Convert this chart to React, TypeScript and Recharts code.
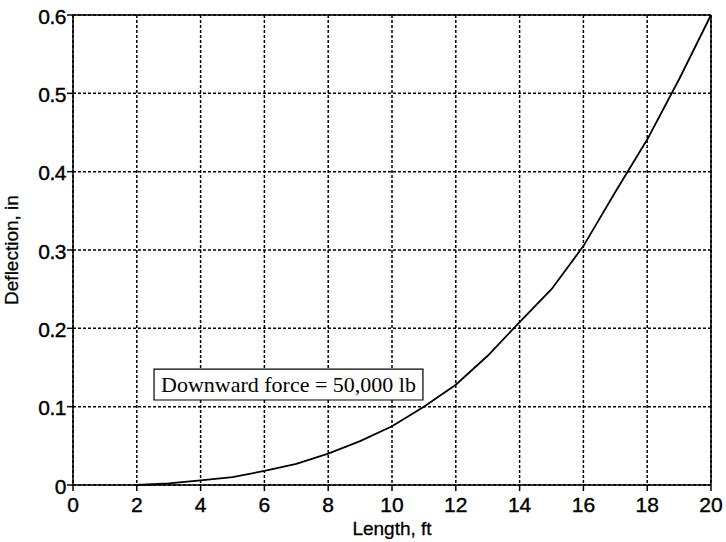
import React from "react";
import {
  LineChart,
  Line,
  XAxis,
  YAxis,
  CartesianGrid,
  ReferenceLine,
  ReferenceArea,
  Label,
} from "recharts";

const lengths = [2, 3, 4, 5, 6, 7, 8, 9, 10, 11, 12, 13, 14, 15, 16, 17, 18, 19, 20];
const deflections = [0, 0.002, 0.006, 0.01, 0.018, 0.027, 0.04, 0.056, 0.075, 0.1, 0.128, 0.165, 0.208, 0.25, 0.305, 0.374, 0.441, 0.518, 0.6];
const xTicks = [0, 2, 4, 6, 8, 10, 12, 14, 16, 18, 20];
const yTicks = [0, 0.1, 0.2, 0.3, 0.4, 0.5, 0.6];
const annotation = "Downward force = 50,000 lb";

const data = lengths.map((x, i) => ({ x, y: deflections[i] }));

const SANS = "Liberation Sans, Arial, sans-serif";

const XTick = (props: any) => {
  const { x, y, payload } = props;
  return (
    <text x={x} y={y + 19} textAnchor="middle" fontSize={21} fontFamily={SANS} fill="#000" stroke="#000" strokeWidth={0.4}>
      {payload.value}
    </text>
  );
};

const YTick = (props: any) => {
  const { x, y, payload } = props;
  const v = payload.value as number;
  return (
    <text x={x + 1} y={y + 8.5} textAnchor="end" fontSize={21} fontFamily={SANS} fill="#000" stroke="#000" strokeWidth={0.4} letterSpacing={-0.5}>
      {v === 0 ? "0" : v.toFixed(1)}
    </text>
  );
};

export default function App() {
  return (
    <div style={{ position: "absolute", left: 0, top: 0, background: "#fff" }}>
      <LineChart
        width={726}
        height={542}
        data={data}
        margin={{ top: 15, right: 15, bottom: 0, left: 0 }}
      >
        <CartesianGrid
          stroke="#000"
          strokeDasharray="3 2"
          strokeWidth={1.5}
          horizontal
          vertical
        />
        <XAxis
          dataKey="x"
          type="number"
          domain={[0, 20]}
          ticks={xTicks}
          interval={0}
          stroke="#000"
          strokeWidth={1.5}
          tickSize={6}
          tick={<XTick />}
          height={57}
        >
          <Label value="Length, ft" position="insideBottom" offset={7} fontSize={19} fontFamily={SANS} fill="#000" stroke="#000" strokeWidth={0.3} />
        </XAxis>
        <YAxis
          type="number"
          domain={[0, 0.6]}
          ticks={yTicks}
          interval={0}
          stroke="#000"
          strokeWidth={1.5}
          tickSize={6}
          width={73}
          tick={<YTick />}
        >
          <Label
            value="Deflection, in"
            angle={-90}
            position="insideLeft"
            offset={11}
            fontSize={19}
            fontFamily={SANS}
            fill="#000"
            stroke="#000"
            strokeWidth={0.3}
            style={{ textAnchor: "middle" }}
          />
        </YAxis>
        <ReferenceLine y={0.6} stroke="#000" strokeWidth={1.5} />
        <ReferenceLine x={20} stroke="#000" strokeWidth={1.5} />
        <ReferenceArea
          x1={2.54}
          x2={10.97}
          y1={0.1085}
          y2={0.148}
          fill="#fff"
          fillOpacity={1}
          stroke="#000"
          strokeWidth={1.2}
        >
          <Label
            value={annotation}
            position="center"
            fontSize={22}
            fontFamily="Liberation Serif, Times New Roman, serif"
            fill="#000"
          />
        </ReferenceArea>
        <Line
          type="linear"
          dataKey="y"
          stroke="#000"
          strokeWidth={1.8}
          dot={false}
          isAnimationActive={false}
        />
      </LineChart>
    </div>
  );
}
